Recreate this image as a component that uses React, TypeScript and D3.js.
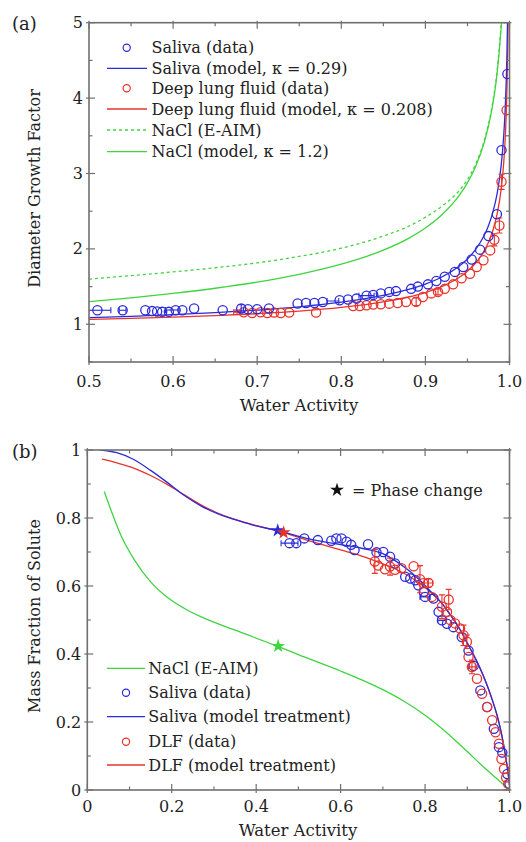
import React from 'react';
import * as d3 from 'd3';

// ---------- Panel (a): Diameter growth factor vs water activity ----------
const salivaModelA_aw = [0.5, 0.55, 0.6, 0.65, 0.7, 0.75, 0.8, 0.85, 0.88, 0.9, 0.92, 0.94, 0.95, 0.96, 0.97, 0.975, 0.98, 0.985, 0.99, 0.993, 0.995, 0.997, 0.998];
const salivaModelA_gf = [1.089, 1.106, 1.128, 1.155, 1.188, 1.232, 1.293, 1.383, 1.462, 1.534, 1.63, 1.769, 1.867, 1.996, 2.18, 2.308, 2.478, 2.716, 3.097, 3.48, 3.887, 4.6, 5.26];

const dlfModelA_aw = [0.5, 0.55, 0.6, 0.65, 0.7, 0.75, 0.8, 0.85, 0.88, 0.9, 0.92, 0.94, 0.95, 0.96, 0.97, 0.975, 0.98, 0.985, 0.99, 0.993, 0.995, 0.997, 0.998, 0.9985];
const dlfModelA_gf = [1.065, 1.078, 1.095, 1.115, 1.141, 1.175, 1.224, 1.297, 1.362, 1.421, 1.503, 1.621, 1.704, 1.816, 1.977, 2.089, 2.237, 2.447, 2.785, 3.124, 3.487, 4.123, 4.715, 5.19];

const naclEaimA_aw = [0.5, 0.55, 0.6, 0.65, 0.7, 0.75, 0.8, 0.85, 0.88, 0.9, 0.92, 0.94, 0.95, 0.96, 0.97, 0.98, 0.985, 0.99, 0.991];
const naclEaimA_gf = [1.6, 1.645, 1.695, 1.75, 1.815, 1.9, 2.01, 2.17, 2.3, 2.42, 2.57, 2.77, 2.92, 3.13, 3.44, 3.94, 4.33, 4.96, 5.1];

const naclModelA_aw = [0.5, 0.55, 0.6, 0.65, 0.7, 0.75, 0.8, 0.85, 0.88, 0.9, 0.92, 0.94, 0.95, 0.96, 0.97, 0.975, 0.98, 0.985, 0.99, 0.991];
const naclModelA_gf = [1.3, 1.351, 1.41, 1.478, 1.56, 1.663, 1.797, 1.983, 2.14, 2.277, 2.455, 2.705, 2.876, 3.101, 3.414, 3.629, 3.911, 4.305, 4.93, 5.106];

const salivaDataA_aw = [0.51, 0.54, 0.567, 0.575, 0.581, 0.587, 0.595, 0.603, 0.611, 0.625, 0.659, 0.681, 0.689, 0.7, 0.714, 0.748, 0.758, 0.768, 0.778, 0.798, 0.808, 0.818, 0.83, 0.838, 0.847, 0.857, 0.865, 0.883, 0.891, 0.903, 0.913, 0.923, 0.935, 0.945, 0.955, 0.965, 0.975, 0.985, 0.9905, 0.9975];
const salivaDataA_gf = [1.186, 1.186, 1.186, 1.175, 1.17, 1.165, 1.165, 1.186, 1.186, 1.21, 1.186, 1.21, 1.2, 1.2, 1.21, 1.275, 1.283, 1.283, 1.296, 1.319, 1.328, 1.341, 1.38, 1.39, 1.41, 1.43, 1.44, 1.47, 1.5, 1.53, 1.575, 1.63, 1.695, 1.76, 1.86, 1.99, 2.17, 2.46, 3.31, 4.32];

const dlfDataA_aw = [0.684, 0.694, 0.704, 0.712, 0.72, 0.728, 0.738, 0.77, 0.814, 0.822, 0.83, 0.838, 0.847, 0.857, 0.867, 0.877, 0.889, 0.897, 0.907, 0.915, 0.923, 0.933, 0.943, 0.953, 0.961, 0.969, 0.977, 0.982, 0.988, 0.9905, 0.9965];
const dlfDataA_gf = [1.16, 1.15, 1.16, 1.15, 1.155, 1.15, 1.155, 1.155, 1.243, 1.243, 1.252, 1.261, 1.266, 1.274, 1.283, 1.296, 1.3, 1.363, 1.41, 1.43, 1.47, 1.53, 1.61, 1.67, 1.76, 1.85, 1.98, 2.12, 2.31, 2.89, 3.84];

// error bars (a): point position, x half-width, y half-height
const salivaErrA_aw = [0.51, 0.54, 0.599, 0.681, 0.83, 0.79];
const salivaErrA_gf = [1.186, 1.186, 1.19, 1.21, 1.38, 1.31];
const salivaErrA_dx = [0.016, 0.004, 0.008, 0, 0.009, 0.007];
const salivaErrA_dy = [0, 0, 0, 0.05, 0, 0];

const dlfErrA_aw = [0.676, 0.889, 0.915, 0.982, 0.988, 0.9905];
const dlfErrA_gf = [1.16, 1.3, 1.43, 2.12, 2.31, 2.89];
const dlfErrA_dx = [0.004, 0, 0, 0, 0, 0];
const dlfErrA_dy = [0.03, 0.05, 0.04, 0.08, 0.1, 0.1];

// ---------- Panel (b): Mass fraction of solute vs water activity ----------
const salivaModelB_aw = [0.03, 0.07, 0.11, 0.15, 0.19, 0.23, 0.27, 0.31, 0.35, 0.39, 0.45, 0.53, 0.6, 0.65, 0.7, 0.73, 0.76, 0.79, 0.82, 0.84, 0.86, 0.88, 0.9, 0.92, 0.935, 0.95, 0.96, 0.97, 0.98, 0.99, 0.995, 1.0];
const salivaModelB_mf = [1.0, 0.992, 0.972, 0.94, 0.904, 0.866, 0.835, 0.812, 0.795, 0.78, 0.763, 0.737, 0.722, 0.711, 0.695, 0.674, 0.647, 0.614, 0.575, 0.549, 0.515, 0.478, 0.432, 0.385, 0.345, 0.298, 0.262, 0.222, 0.172, 0.105, 0.065, 0.015];

const dlfModelB_aw = [0.035, 0.07, 0.11, 0.15, 0.19, 0.23, 0.27, 0.31, 0.35, 0.39, 0.465, 0.53, 0.6, 0.65, 0.7, 0.73, 0.76, 0.79, 0.82, 0.84, 0.86, 0.88, 0.9, 0.92, 0.935, 0.95, 0.96, 0.97, 0.98, 0.99, 0.995, 1.0];
const dlfModelB_mf = [0.973, 0.962, 0.947, 0.925, 0.898, 0.868, 0.838, 0.814, 0.796, 0.781, 0.757, 0.731, 0.706, 0.688, 0.665, 0.65, 0.63, 0.605, 0.574, 0.549, 0.515, 0.478, 0.432, 0.385, 0.345, 0.298, 0.262, 0.222, 0.172, 0.105, 0.065, 0.015];

const naclB_aw = [0.04, 0.06, 0.08, 0.11, 0.15, 0.19, 0.23, 0.27, 0.35, 0.45, 0.5, 0.6, 0.65, 0.7, 0.75, 0.8, 0.85, 0.9, 0.94, 0.97, 0.995];
const naclB_mf = [0.878, 0.81, 0.748, 0.68, 0.612, 0.566, 0.534, 0.509, 0.47, 0.423, 0.398, 0.35, 0.324, 0.295, 0.261, 0.22, 0.17, 0.113, 0.066, 0.033, 0.006];

const salivaDataB_aw = [0.479, 0.495, 0.514, 0.546, 0.578, 0.59, 0.602, 0.614, 0.625, 0.633, 0.665, 0.685, 0.701, 0.717, 0.729, 0.753, 0.765, 0.777, 0.784, 0.797, 0.8, 0.82, 0.832, 0.84, 0.852, 0.867, 0.887, 0.903, 0.915, 0.931, 0.947, 0.963, 0.975, 0.983, 0.995, 1.0];
const salivaDataB_mf = [0.726, 0.726, 0.74, 0.735, 0.733, 0.74, 0.74, 0.73, 0.721, 0.706, 0.723, 0.699, 0.7, 0.686, 0.666, 0.627, 0.622, 0.617, 0.602, 0.583, 0.568, 0.563, 0.524, 0.499, 0.489, 0.479, 0.45, 0.41, 0.365, 0.293, 0.244, 0.18, 0.126, 0.11, 0.047, 0.018];

const dlfDataB_aw = [0.681, 0.689, 0.705, 0.717, 0.729, 0.744, 0.773, 0.788, 0.796, 0.808, 0.816, 0.84, 0.852, 0.856, 0.86, 0.871, 0.883, 0.891, 0.899, 0.903, 0.911, 0.923, 0.935, 0.947, 0.959, 0.967, 0.975, 0.981, 0.987, 0.992, 0.997];
const dlfDataB_mf = [0.672, 0.66, 0.649, 0.657, 0.648, 0.652, 0.658, 0.62, 0.608, 0.609, 0.568, 0.539, 0.524, 0.56, 0.5, 0.49, 0.475, 0.455, 0.436, 0.391, 0.362, 0.327, 0.283, 0.244, 0.205, 0.17, 0.136, 0.091, 0.062, 0.037, 0.018];

const salivaErrB_aw = [0.479, 0.8, 0.84];
const salivaErrB_mf = [0.726, 0.568, 0.499];
const salivaErrB_dx = [0.02, 0.012, 0.01];
const salivaErrB_dy = [0, 0, 0];

const dlfErrB_aw = [0.681, 0.717, 0.788, 0.808, 0.84, 0.856, 0.891, 0.899, 0.911];
const dlfErrB_mf = [0.672, 0.657, 0.62, 0.609, 0.539, 0.56, 0.455, 0.436, 0.362];
const dlfErrB_dx = [0, 0, 0, 0.01, 0, 0, 0, 0, 0.008];
const dlfErrB_dy = [0.035, 0.025, 0.04, 0.012, 0.035, 0.03, 0.03, 0.02, 0.02];

// phase-change stars (b)
const starLabels = ['saliva', 'dlf', 'nacl'];
const starAw = [0.451, 0.465, 0.452];
const starMf = [0.763, 0.757, 0.423];

// ticks
const xTicksA = [0.5, 0.6, 0.7, 0.8, 0.9, 1.0];
const xTickLabelsA = ['0.5', '0.6', '0.7', '0.8', '0.9', '1.0'];
const yTicksA = [1, 2, 3, 4, 5];
const yTickLabelsA = ['1', '2', '3', '4', '5'];
const xTicksB = [0, 0.2, 0.4, 0.6, 0.8, 1.0];
const xTickLabelsB = ['0', '0.2', '0.4', '0.6', '0.8', '1.0'];
const yTicksB = [0, 0.2, 0.4, 0.6, 0.8, 1];
const yTickLabelsB = ['0', '0.2', '0.4', '0.6', '0.8', '1'];

const legendA = ['Saliva (data)', 'Saliva (model, κ = 0.29)', 'Deep lung fluid (data)', 'Deep lung fluid (model, κ = 0.208)', 'NaCl (E-AIM)', 'NaCl (model, κ = 1.2)'];
const legendB = ['NaCl (E-AIM)', 'Saliva (data)', 'Saliva (model treatment)', 'DLF (data)', 'DLF (model treatment)'];

const BLUE = '#2b2bd8';
const RED = '#e8332b';
const GREEN = '#3fd43f';
const AXIS = '#707070';
const FONT = '"DejaVu Serif", serif';

type Scale = d3.ScaleLinear<number, number>;

function Frame({ x, y, xMajor, xMinor, yMajor, yMinor, xLabels, yLabels, xLabelY }: {
  x: Scale; y: Scale; xMajor: number[]; xMinor: number[]; yMajor: number[]; yMinor: number[];
  xLabels: string[]; yLabels: string[]; xLabelY: number;
}) {
  const [x0, x1] = x.range();
  const [y0, y1] = y.range(); // y0 bottom, y1 top
  const els: React.ReactNode[] = [];
  xMajor.forEach((v, i) => {
    const px = x(v);
    els.push(<line key={'xb' + i} x1={px} x2={px} y1={y0 + 3} y2={y0 - 6} />);
    els.push(<line key={'xt' + i} x1={px} x2={px} y1={y1 - 2} y2={y1 + 6} />);
  });
  xMinor.forEach((v, i) => {
    const px = x(v);
    els.push(<line key={'xbm' + i} x1={px} x2={px} y1={y0} y2={y0 - 3.5} />);
    els.push(<line key={'xtm' + i} x1={px} x2={px} y1={y1} y2={y1 + 3.5} />);
  });
  yMajor.forEach((v, i) => {
    const py = y(v);
    els.push(<line key={'yl' + i} x1={x0 - 3} x2={x0 + 6} y1={py} y2={py} />);
    els.push(<line key={'yr' + i} x1={x1 + 2} x2={x1 - 6} y1={py} y2={py} />);
  });
  yMinor.forEach((v, i) => {
    const py = y(v);
    els.push(<line key={'ylm' + i} x1={x0} x2={x0 + 3.5} y1={py} y2={py} />);
    els.push(<line key={'yrm' + i} x1={x1} x2={x1 - 3.5} y1={py} y2={py} />);
  });
  return (
    <g>
      <g stroke={AXIS} strokeWidth={1.2}>{els}</g>
      <rect x={x0} y={y1} width={x1 - x0} height={y0 - y1} fill="none" stroke={AXIS} strokeWidth={1.6} />
      <g fontFamily={FONT} fontSize={16} fill="#222">
        {xMajor.map((v, i) => (
          <text key={'xl' + i} x={x(v)} y={xLabelY} textAnchor="middle">{xLabels[i]}</text>
        ))}
        {yMajor.map((v, i) => (
          <text key={'yl' + i} x={x0 - 6} y={y(v) + 5.5} textAnchor="end">{yLabels[i]}</text>
        ))}
      </g>
    </g>
  );
}

function ErrBars({ x, y, aw, val, dx, dy, color }: { x: Scale; y: Scale; aw: number[]; val: number[]; dx: number[]; dy: number[]; color: string }) {
  return (
    <g stroke={color} strokeWidth={1.1} fill="none">
      {aw.map((a, i) => {
        const px = x(a), py = y(val[i]);
        const parts: React.ReactNode[] = [];
        if (dx[i] > 0) {
          const l = x(a - dx[i]), r = x(a + dx[i]);
          parts.push(<line key="h" x1={l} x2={r} y1={py} y2={py} />);
          parts.push(<line key="hl" x1={l} x2={l} y1={py - 3} y2={py + 3} />);
          parts.push(<line key="hr" x1={r} x2={r} y1={py - 3} y2={py + 3} />);
        }
        if (dy[i] > 0) {
          const t = y(val[i] + dy[i]), b = y(val[i] - dy[i]);
          parts.push(<line key="v" x1={px} x2={px} y1={t} y2={b} />);
          parts.push(<line key="vt" x1={px - 3} x2={px + 3} y1={t} y2={t} />);
          parts.push(<line key="vb" x1={px - 3} x2={px + 3} y1={b} y2={b} />);
        }
        return <g key={i}>{parts}</g>;
      })}
    </g>
  );
}

function Circles({ x, y, aw, val, color }: { x: Scale; y: Scale; aw: number[]; val: number[]; color: string }) {
  return (
    <g stroke={color} strokeWidth={1.3} fill="none">
      {aw.map((a, i) => <circle key={i} cx={x(a)} cy={y(val[i])} r={4.6} />)}
    </g>
  );
}

function curvePath(x: Scale, y: Scale, aw: number[], val: number[]) {
  const pts: [number, number][] = aw.map((a, i) => [a, val[i]]);
  return d3.line<[number, number]>().x(d => x(d[0])).y(d => y(d[1])).curve(d3.curveMonotoneX)(pts) || '';
}

export default function App() {
  const xA = d3.scaleLinear().domain([0.5, 1]).range([89, 509.5]);
  const yA = d3.scaleLinear().domain([0.5, 5]).range([362, 22.7]);
  const xB = d3.scaleLinear().domain([0, 1]).range([87.3, 509.5]);
  const yB = d3.scaleLinear().domain([0, 1]).range([790, 450]);

  const xMinorA = d3.range(0.55, 1.0, 0.1);
  const yMinorA = [0.5, 1.5, 2.5, 3.5, 4.5];
  const xMinorB = d3.range(0.1, 1.0, 0.2);
  const yMinorB = d3.range(0.1, 1.0, 0.2);

  const star = d3.symbol(d3.symbolStar, 60)() || '';
  const starColors = [BLUE, RED, GREEN];

  const legAY = [47.7, 68.3, 88.3, 109, 130, 151.7];
  const legBY = [668.3, 692.7, 716.7, 741.7, 765];

  return (
    <svg width={526} height={842} style={{ position: 'absolute', left: 0, top: 0, background: '#fff' }}>
      <defs>
        <clipPath id="clipA"><rect x={89} y={22.7} width={420.5} height={339.3} /></clipPath>
        <clipPath id="clipB"><rect x={87.3} y={450} width={422.2} height={340} /></clipPath>
      </defs>

      {/* ---------------- Panel (a) ---------------- */}
      <text x={12} y={30} fontFamily={FONT} fontSize={18} fill="#222">(a)</text>
      <g clipPath="url(#clipA)" fill="none">
        <path d={curvePath(xA, yA, naclEaimA_aw, naclEaimA_gf)} stroke={GREEN} strokeWidth={1.3} strokeDasharray="3,3" />
        <path d={curvePath(xA, yA, naclModelA_aw, naclModelA_gf)} stroke={GREEN} strokeWidth={1.3} />
        <path d={curvePath(xA, yA, dlfModelA_aw, dlfModelA_gf)} stroke={RED} strokeWidth={1.3} />
        <path d={curvePath(xA, yA, salivaModelA_aw, salivaModelA_gf)} stroke={BLUE} strokeWidth={1.3} />
        <ErrBars x={xA} y={yA} aw={dlfErrA_aw} val={dlfErrA_gf} dx={dlfErrA_dx} dy={dlfErrA_dy} color={RED} />
        <Circles x={xA} y={yA} aw={dlfDataA_aw} val={dlfDataA_gf} color={RED} />
        <ErrBars x={xA} y={yA} aw={salivaErrA_aw} val={salivaErrA_gf} dx={salivaErrA_dx} dy={salivaErrA_dy} color={BLUE} />
        <Circles x={xA} y={yA} aw={salivaDataA_aw} val={salivaDataA_gf} color={BLUE} />
      </g>
      <Frame x={xA} y={yA} xMajor={xTicksA} xMinor={xMinorA} yMajor={yTicksA} yMinor={yMinorA}
        xLabels={xTickLabelsA} yLabels={yTickLabelsA} xLabelY={387} />
      <text x={299} y={411} fontFamily={FONT} fontSize={16.5} fill="#222" textAnchor="middle">Water Activity</text>
      <text transform="translate(40,188.5) rotate(-90)" fontFamily={FONT} fontSize={16} fill="#222" textAnchor="middle">Diameter Growth Factor</text>

      {/* legend (a) */}
      <g fontFamily={FONT} fontSize={16} fill="#222">
        {legendA.map((t, i) => (
          <text key={i} x={151.5} y={legAY[i] + 5.5}>{t}</text>
        ))}
      </g>
      <circle cx={126.7} cy={legAY[0]} r={3.6} fill="none" stroke={BLUE} strokeWidth={1.2} />
      <line x1={107} x2={147} y1={legAY[1]} y2={legAY[1]} stroke={BLUE} strokeWidth={1.3} />
      <circle cx={126.7} cy={legAY[2]} r={3.6} fill="none" stroke={RED} strokeWidth={1.2} />
      <line x1={107} x2={147} y1={legAY[3]} y2={legAY[3]} stroke={RED} strokeWidth={1.3} />
      <line x1={107} x2={147} y1={legAY[4]} y2={legAY[4]} stroke={GREEN} strokeWidth={1.3} strokeDasharray="3,3" />
      <line x1={107} x2={147} y1={legAY[5]} y2={legAY[5]} stroke={GREEN} strokeWidth={1.3} />

      {/* ---------------- Panel (b) ---------------- */}
      <text x={12} y={458} fontFamily={FONT} fontSize={18} fill="#222">(b)</text>
      <g clipPath="url(#clipB)" fill="none">
        <path d={curvePath(xB, yB, naclB_aw, naclB_mf)} stroke={GREEN} strokeWidth={1.3} />
        <path d={curvePath(xB, yB, dlfModelB_aw, dlfModelB_mf)} stroke={RED} strokeWidth={1.3} />
        <path d={curvePath(xB, yB, salivaModelB_aw, salivaModelB_mf)} stroke={BLUE} strokeWidth={1.3} />
        <ErrBars x={xB} y={yB} aw={salivaErrB_aw} val={salivaErrB_mf} dx={salivaErrB_dx} dy={salivaErrB_dy} color={BLUE} />
        <Circles x={xB} y={yB} aw={salivaDataB_aw} val={salivaDataB_mf} color={BLUE} />
        <ErrBars x={xB} y={yB} aw={dlfErrB_aw} val={dlfErrB_mf} dx={dlfErrB_dx} dy={dlfErrB_dy} color={RED} />
        <Circles x={xB} y={yB} aw={dlfDataB_aw} val={dlfDataB_mf} color={RED} />
      </g>
      {starLabels.map((k, i) => (
        <path key={k} d={star} transform={`translate(${xB(starAw[i])},${yB(starMf[i])})`} fill={starColors[i]} />
      ))}
      <Frame x={xB} y={yB} xMajor={xTicksB} xMinor={xMinorB} yMajor={yTicksB} yMinor={yMinorB}
        xLabels={xTickLabelsB} yLabels={yTickLabelsB} xLabelY={812} />
      <text x={298} y={836} fontFamily={FONT} fontSize={16.5} fill="#222" textAnchor="middle">Water Activity</text>
      <text transform="translate(40,616) rotate(-90)" fontFamily={FONT} fontSize={16} fill="#222" textAnchor="middle">Mass Fraction of Solute</text>

      {/* phase change note */}
      <path d={star} transform="translate(337,490)" fill="#111" />
      <text x={352} y={495.5} fontFamily={FONT} fontSize={16} fill="#222">= Phase change</text>

      {/* legend (b) */}
      <g fontFamily={FONT} fontSize={16} fill="#222">
        {legendB.map((t, i) => (
          <text key={i} x={148.3} y={legBY[i] + 5.5}>{t}</text>
        ))}
      </g>
      <line x1={107} x2={145} y1={legBY[0]} y2={legBY[0]} stroke={GREEN} strokeWidth={1.3} />
      <circle cx={126} cy={legBY[1]} r={3.6} fill="none" stroke={BLUE} strokeWidth={1.2} />
      <line x1={107} x2={145} y1={legBY[2]} y2={legBY[2]} stroke={BLUE} strokeWidth={1.3} />
      <circle cx={126} cy={legBY[3]} r={3.6} fill="none" stroke={RED} strokeWidth={1.2} />
      <line x1={107} x2={145} y1={legBY[4]} y2={legBY[4]} stroke={RED} strokeWidth={1.3} />
    </svg>
  );
}
